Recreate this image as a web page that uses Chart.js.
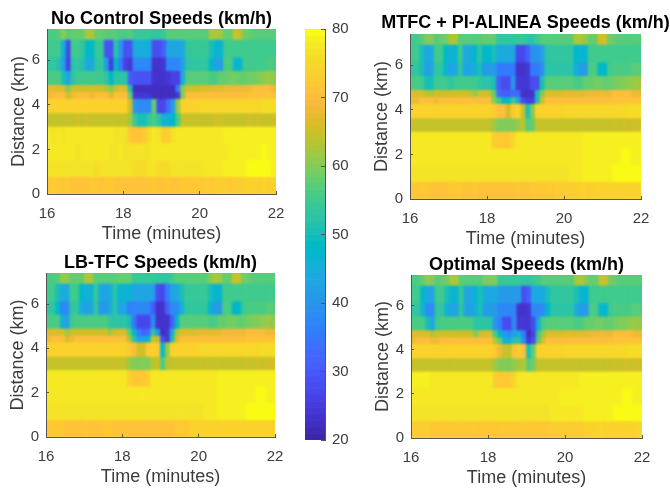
<!DOCTYPE html>
<html>
<head>
  <meta charset="UTF-8">
  <title>Speeds</title>
  <script src="https://cdn.jsdelivr.net/npm/chart.js"></script>
  <style>
    html, body { margin: 0; padding: 0; background: #fff; width: 670px; height: 491px; overflow: hidden; }
    canvas { position: absolute; filter: blur(0.3px); }
  </style>
</head>
<body>
<canvas id="p1"></canvas>
<canvas id="p2"></canvas>
<canvas id="p3"></canvas>
<canvas id="p4"></canvas>
<canvas id="bar"></canvas>
<script>
// one time bin = 1/8 minute, 48 bins from 16 to 22
const timeStart = 16;
const timeStep = 0.125;
// row edges in km, bottom to top
const distanceEdges = [0, 0.75, 1.5, 2.25, 3, 3.6, 4.25, 4.55, 4.87, 5.5, 6.1, 6.9, 7.4];
const xTicks = [16, 18, 20, 22];
const yTicks = [0, 2, 4, 6];
const barTicks = [20, 30, 40, 50, 60, 70, 80];

// speeds km/h, rows top to bottom (7.4 km down to 0 km)
const noControl = [
  [56,56,57,61,57,58,58,58, 63,63,58,58,57,57,57,56, 56,57,54,54,54,54,53,53, 54,57,57,57,57,57,57,57, 57,57,63,63,62,58,58,65, 65,59,58,57,57,57,57,57],
  [55,55,55,46,27,55,55,53, 49,49,54,54,29,29,52,40, 29,29,45,45,45,45,28,28, 30,43,43,43,44,53,54,54, 54,54,50,47,47,55,55,55, 55,55,55,55,55,55,55,55],
  [53,53,51,42,26,52,53,51, 44,44,53,53,41,25,49,35, 26,24,37,37,37,37,23,23, 24,37,37,37,42,52,53,53, 53,53,48,42,42,56,56,47, 47,55,55,55,55,55,56,56],
  [56,56,56,50,42,52,55,55, 55,55,55,55,53,48,52,52, 52,30,29,29,29,29,23,23, 23,24,26,26,44,57,57,57, 57,57,56,56,58,58,59,59, 58,58,59,59,60,61,62,61],
  [68,68,67,67,60,66,66,66, 66,66,66,66,64,60,66,67, 67,50,22,22,22,22,22,22, 22,22,22,35,60,66,66,66, 67,67,68,68,68,69,69,69, 69,69,69,70,70,70,70,69],
  [69,70,70,70,66,69,70,70, 70,69,70,70,70,67,70,70, 70,58,24,24,24,24,22,22, 22,22,22,24,60,70,70,70, 70,70,70,70,70,70,70,70, 70,70,71,71,71,71,71,71],
  [74,74,74,74,74,74,74,74, 74,74,74,74,74,74,74,74, 74,66,40,38,38,38,58,27, 27,33,42,62,74,74,74,74, 75,75,75,75,75,75,75,75, 75,75,75,75,75,76,76,76],
  [65,65,65,65,65,65,66,65, 66,65,65,65,65,65,65,65, 65,62,54,50,50,54,56,52, 46,46,48,56,65,65,65,65, 65,65,65,66,66,65,65,65, 65,65,66,65,66,65,65,66],
  [78,77,78,77,78,78,78,78, 78,78,78,78,78,78,77,77, 77,72,71,71,72,76,78,77, 73,73,77,78,78,78,78,78, 78,78,78,78,78,79,79,79, 79,79,79,79,79,79,79,79],
  [78,78,78,78,78,78,77,78, 78,78,78,78,78,77,77,78, 77,77,77,77,77,77,78,78, 78,78,78,78,78,78,78,78, 78,78,78,78,78,78,79,79, 79,79,79,79,79,80,79,79],
  [77,77,77,77,77,77,77,77, 77,77,76,77,77,77,77,77, 77,77,76,76,76,77,77,76, 76,76,77,77,77,77,77,77, 77,78,78,78,78,79,79,79, 79,79,80,80,80,80,80,79],
  [72,73,72,72,72,71,71,71, 71,72,72,71,72,72,71,71, 71,71,71,71,71,71,72,71, 71,72,71,71,72,72,72,72, 72,73,72,73,73,73,72,73, 73,74,74,74,73,74,73,74]
];
const mtfc = [
  [55,55,57,60,60,57,58,59, 63,63,57,57,57,57,57,58, 58,58,53,53,53,53,54,54, 52,52,55,57,57,57,57,57, 57,57,63,63,61,58,58,66, 66,59,58,57,57,57,57,57],
  [55,55,50,43,44,55,55,48, 46,47,55,44,44,48,52,48, 48,50,44,44,44,44,27,27, 30,39,39,42,52,53,53,53, 53,53,48,47,47,55,55,55, 55,55,55,55,55,55,55,55],
  [53,53,50,42,43,53,53,47, 43,44,53,43,43,46,50,41, 41,41,35,35,35,35,23,23, 24,35,35,38,52,52,52,52, 52,52,46,41,41,56,56,48, 48,55,56,56,56,56,57,57],
  [56,56,55,50,50,55,55,55, 53,55,55,55,55,55,53,52, 52,50,30,28,28,40,24,24, 24,28,28,50,57,57,57,57, 57,57,56,56,58,58,59,59, 58,58,59,60,60,61,62,62],
  [67,67,67,64,63,66,66,66, 66,66,66,66,66,61,66,66, 66,58,32,30,30,32,32,23, 23,23,50,60,67,67,67,67, 68,68,68,68,68,69,69,69, 69,69,70,70,70,70,69,69],
  [69,69,70,70,70,69,70,70, 70,70,70,70,70,70,70,70, 70,60,55,48,48,55,45,28, 25,25,50,65,70,70,70,70, 70,70,70,70,70,70,70,70, 70,70,71,71,71,71,71,71],
  [74,74,74,74,74,74,74,74, 74,74,74,74,74,74,74,74, 74,73,70,70,66,72,74,66, 50,60,74,74,74,74,74,74, 75,75,75,75,75,75,75,75, 75,75,75,75,75,76,76,76],
  [65,65,65,65,65,65,65,65, 65,65,65,65,65,65,65,65, 65,62,60,60,60,60,62,64, 57,58,65,65,65,65,65,65, 65,65,65,65,65,65,65,65, 65,65,66,65,66,65,66,66],
  [78,78,78,78,78,78,78,78, 78,78,78,78,78,78,78,78, 78,73,72,72,72,75,78,78, 78,78,78,78,78,78,78,78, 78,78,78,78,79,79,79,79, 79,79,79,79,79,79,79,79],
  [78,78,78,78,78,78,78,78, 78,78,78,78,78,78,78,78, 78,78,78,78,78,78,78,78, 78,78,78,78,78,78,78,78, 78,78,78,78,79,79,79,79, 79,79,79,79,80,80,79,79],
  [77,77,77,77,77,77,77,77, 77,77,77,77,77,77,77,77, 77,77,77,77,77,77,77,77, 77,77,77,77,77,77,77,77, 77,78,78,78,79,79,79,79, 79,79,80,80,80,80,80,80],
  [72,72,72,72,71,71,71,71, 72,72,72,71,71,72,71,71, 71,71,71,71,71,71,72,71, 71,72,72,72,72,72,73,73, 73,73,73,74,74,73,74,74, 74,74,74,74,74,74,74,74]
];
const lbTfc = [
  [56,56,57,61,61,58,58,58, 63,63,57,57,57,57,57,58, 58,58,54,54,54,54,54,53, 53,53,55,57,57,57,57,57, 57,57,60,63,62,58,58,65, 65,59,58,57,57,57,57,57],
  [55,55,50,44,45,55,55,48, 45,47,54,44,43,45,52,47, 46,47,43,43,43,43,42,28, 27,35,43,44,50,54,54,54, 54,54,50,47,47,55,55,55, 55,55,55,55,55,55,55,55],
  [53,53,48,37,38,53,53,45, 42,43,53,41,40,44,52,43, 43,36,37,37,37,37,30,23, 23,30,38,38,45,53,53,53, 53,53,47,41,41,56,56,48, 48,55,56,56,56,56,57,57],
  [56,56,56,45,42,55,56,56, 56,56,56,56,56,53,52,52, 52,50,35,27,27,27,38,23, 23,23,30,48,57,57,57,57, 57,57,56,56,58,58,59,59, 58,58,59,60,60,61,62,61],
  [67,67,67,67,62,66,66,66, 66,66,66,66,66,62,66,67, 67,58,48,36,30,32,52,40, 22,24,45,62,67,67,67,67, 68,68,68,68,68,69,69,69, 69,69,70,70,70,70,69,69],
  [69,70,70,70,67,69,70,70, 70,70,70,70,70,70,70,70, 70,64,52,42,42,48,65,64, 28,24,50,67,70,70,70,70, 70,70,70,70,70,70,70,70, 70,70,71,71,71,71,71,71],
  [74,74,74,74,74,74,74,74, 74,74,74,74,74,74,74,74, 74,72,70,66,66,72,74,72, 48,62,74,74,74,74,74,74, 75,75,75,75,75,75,75,75, 75,75,75,75,75,76,76,76],
  [65,65,65,65,65,65,65,65, 65,65,65,65,65,65,65,65, 65,62,60,60,60,60,64,65, 56,64,65,65,65,65,65,65, 65,65,65,65,65,65,65,65, 65,65,66,65,66,65,66,66],
  [78,78,78,78,78,78,78,78, 78,78,78,78,78,78,78,78, 78,74,72,72,72,74,78,78, 78,78,78,78,78,78,78,78, 78,78,78,78,79,79,79,79, 79,79,79,79,79,79,79,79],
  [78,78,78,78,78,78,78,78, 78,78,78,78,78,78,78,78, 78,78,78,78,78,78,78,78, 78,78,78,78,78,78,78,78, 78,78,78,78,79,79,79,79, 79,79,79,79,80,80,79,79],
  [77,77,77,77,77,77,77,77, 77,77,77,77,77,77,77,77, 77,77,77,77,77,77,77,77, 77,77,77,77,77,77,77,77, 77,78,78,78,79,79,79,79, 79,79,80,80,80,80,80,80],
  [72,72,72,72,71,71,71,71, 72,71,71,71,72,72,71,71, 71,71,71,71,71,71,71,71, 71,71,71,72,72,72,74,74, 74,74,74,74,74,74,74,74, 74,74,74,74,74,74,74,74]
];
const optimal = [
  [56,56,58,61,60,57,58,59, 63,63,57,57,57,57,57,60, 60,60,54,54,54,54,54,53, 53,54,55,57,57,57,57,57, 57,57,63,63,60,58,58,65, 65,59,58,57,57,57,57,57],
  [55,55,48,43,43,55,55,50, 47,47,54,43,43,47,50,44, 44,44,41,41,41,41,41,28, 30,44,44,44,50,53,53,53, 53,53,50,47,47,55,55,55, 55,55,55,55,55,55,55,55],
  [53,53,46,38,38,53,53,46, 43,43,53,42,42,46,50,41, 41,41,37,37,37,37,23,23, 24,37,37,38,48,52,52,52, 52,52,44,41,41,56,56,47, 47,55,56,56,56,56,57,57],
  [56,56,56,50,43,55,56,56, 56,56,56,56,56,52,52,52, 52,40,36,28,28,38,24,24, 24,28,46,56,57,57,57,57, 57,57,56,56,58,58,59,59, 58,58,59,60,60,61,62,61],
  [67,67,67,67,63,66,66,66, 66,66,66,66,66,60,66,67, 67,56,48,40,38,42,45,35, 22,26,55,62,67,67,67,67, 68,68,68,68,68,69,69,69, 69,69,70,70,70,70,69,69],
  [69,70,70,70,69,69,70,70, 70,70,70,70,70,70,70,70, 70,64,58,46,46,52,52,38, 24,28,58,67,70,70,70,70, 70,70,70,70,70,70,70,70, 70,70,71,71,71,71,71,71],
  [74,74,74,74,74,74,74,74, 74,74,74,74,74,74,74,74, 74,72,69,65,65,71,73,70, 50,58,74,74,74,74,74,74, 75,75,75,75,75,75,75,75, 75,75,75,75,75,76,76,76],
  [65,65,65,65,65,65,65,65, 65,65,65,65,65,65,65,65, 65,62,60,60,60,61,63,63, 57,59,65,65,65,65,65,65, 65,65,65,65,65,65,65,65, 65,65,66,65,66,65,66,66],
  [79,79,79,79,78,78,78,78, 78,78,78,78,78,78,78,78, 78,73,72,72,72,75,78,78, 78,78,78,78,78,78,78,78, 78,78,78,79,79,79,79,79, 79,79,79,79,79,79,79,79],
  [78,78,78,78,78,78,78,78, 78,78,78,78,78,78,78,78, 78,78,78,78,78,78,78,78, 78,78,78,78,78,78,78,79, 79,79,79,79,79,79,79,79, 79,79,79,79,80,80,79,79],
  [77,77,77,77,77,77,77,77, 77,77,77,77,77,77,77,77, 77,77,77,77,77,77,77,77, 77,77,77,77,77,78,78,78, 78,78,78,78,79,79,79,79, 79,79,80,80,80,80,80,80],
  [73,73,73,73,72,72,72,72, 72,72,72,72,72,72,72,72, 72,72,72,72,72,72,72,72, 72,72,72,72,72,73,73,73, 73,73,73,73,74,74,74,75, 74,74,74,74,74,74,74,75]
];

// MATLAB parula(64)
const parula = [
  [62,38,168],[64,42,181],[66,46,192],[67,50,203],[69,55,213],[70,60,222],[71,65,229],[71,71,235],
  [72,77,240],[72,82,244],[71,88,248],[70,94,251],[69,99,253],[66,105,254],[62,111,255],[56,117,254],
  [50,124,252],[47,129,250],[46,135,247],[45,140,243],[43,145,239],[39,151,235],[37,155,232],[35,160,229],
  [32,165,227],[28,169,223],[24,173,219],[18,177,214],[8,181,208],[1,184,202],[2,186,195],[11,189,189],
  [25,191,182],[36,193,174],[44,196,167],[49,198,159],[55,200,151],[63,202,142],[74,203,132],[87,204,122],
  [100,205,111],[114,205,100],[129,204,89],[143,203,78],[157,201,67],[171,199,57],[185,196,49],[197,194,42],
  [209,191,39],[220,189,41],[230,187,45],[240,186,54],[248,186,61],[254,190,60],[254,195,56],[254,200,51],
  [252,205,49],[250,210,43],[247,215,41],[245,220,39],[245,227,39],[246,233,36],[247,240,32],[249,251,21]
];

function speedColor(v) {
  let i = Math.round((v - 20) / 60 * 63);
  i = Math.max(0, Math.min(63, i));
  return 'rgb(' + parula[i].join(',') + ')';
}

const textColor = '#3c3c3c';
const lineColor = '#555';
const fontName = "'Liberation Sans', Arial, sans-serif";

const panels = [
  { id: 'p1', speeds: noControl, title: 'No Control Speeds (km/h)', left: 0, top: 0, plotLeft: 47, plotRight: 276, plotTop: 29, plotBottom: 194, titlePad: 9 },
  { id: 'p2', speeds: mtfc, title: 'MTFC + PI-ALINEA Speeds (km/h)', left: 364, top: 0, plotLeft: 410, plotRight: 641, plotTop: 34, plotBottom: 199, titlePad: 13 },
  { id: 'p3', speeds: lbTfc, title: 'LB-TFC Speeds (km/h)', left: 0, top: 245, plotLeft: 46, plotRight: 275, plotTop: 273, plotBottom: 437, titlePad: 8 },
  { id: 'p4', speeds: optimal, title: 'Optimal Speeds (km/h)', left: 364, top: 245, plotLeft: 411, plotRight: 642, plotTop: 275, plotBottom: 438, titlePad: 10 }
];

// centre the title over the plot and let it run wider than the plot
const titleOverPlot = {
  id: 'titleOverPlot',
  afterLayout(chart) {
    const a = chart.chartArea;
    const mid = (a.left + a.right) / 2;
    chart.titleBlock.left = mid - 160;
    chart.titleBlock.right = mid + 160;
  }
};

// soften the cells a little, the reference image is resampled
const softenCells = {
  id: 'softenCells',
  afterDatasetsDraw(chart) {
    const { ctx, canvas, chartArea: a } = chart;
    ctx.save();
    ctx.beginPath();
    ctx.rect(a.left, a.top, a.right - a.left, a.bottom - a.top);
    ctx.clip();
    ctx.filter = 'blur(0.8px)';
    ctx.drawImage(canvas, 0, 0);
    ctx.restore();
  }
};

function drawPanel(p) {
  const canvas = document.getElementById(p.id);
  const width = p.plotRight - p.left + 36;
  const height = p.plotBottom + 51 - p.top;
  canvas.width = width;
  canvas.height = height;
  canvas.style.left = p.left + 'px';
  canvas.style.top = p.top + 'px';

  const cells = [];
  const colors = [];
  p.speeds.forEach((row, r) => {
    const k = distanceEdges.length - 2 - r;
    row.forEach((v, c) => {
      cells.push({ x: timeStart + (c + 0.5) * timeStep, y: [distanceEdges[k], distanceEdges[k + 1]] });
      colors.push(speedColor(v));
    });
  });

  new Chart(canvas, {
    type: 'bar',
    data: { datasets: [{ data: cells, backgroundColor: colors, borderWidth: 0, barPercentage: 1, categoryPercentage: 1 }] },
    options: {
      responsive: false,
      animation: false,
      devicePixelRatio: 1,
      layout: { padding: { right: 36 } },
      plugins: {
        legend: { display: false },
        tooltip: { enabled: false },
        title: {
          display: true, text: p.title, color: '#000', fullSize: false,
          font: { family: fontName, size: 18, weight: 'bold', lineHeight: '20px' },
          padding: { top: p.titlePad, bottom: p.plotTop - p.top - p.titlePad - 20 }
        }
      },
      scales: {
        x: {
          type: 'linear', min: 16, max: 22, offset: false,
          afterFit: s => { s.height = 51; },
          afterBuildTicks: s => { s.ticks = xTicks.map(v => ({ value: v })); },
          grid: { drawOnChartArea: false, tickLength: -3, color: lineColor, z: 1, offset: false },
          border: { color: lineColor, z: 1 },
          ticks: { color: textColor, font: { family: fontName, size: 15 }, padding: 14, maxRotation: 0 },
          title: { display: true, text: 'Time (minutes)', color: textColor, font: { family: fontName, size: 18 }, padding: { top: 0, bottom: 0 } }
        },
        y: {
          type: 'linear', min: 0, max: 7.4,
          afterFit: s => { s.width = p.plotLeft - p.left; },
          afterBuildTicks: s => { s.ticks = yTicks.map(v => ({ value: v })); },
          grid: { drawOnChartArea: false, tickLength: -3, color: lineColor, z: 1 },
          border: { color: lineColor, z: 1 },
          ticks: { color: textColor, font: { family: fontName, size: 15 }, padding: 10 },
          title: { display: true, text: 'Distance (km)', color: textColor, font: { family: fontName, size: 18 }, padding: { top: p.plotLeft - p.left - 39, bottom: 0 } }
        }
      }
    },
    plugins: [titleOverPlot, softenCells]
  });
}

function drawColorbar() {
  const canvas = document.getElementById('bar');
  canvas.width = 60;
  canvas.height = 451;
  canvas.style.left = '300px';
  canvas.style.top = '9px';
  const step = 60 / parula.length;
  const cells = parula.map((c, i) => ({ x: 'c', y: [20 + i * step, 20 + (i + 1) * step] }));
  new Chart(canvas, {
    type: 'bar',
    data: { labels: ['c'], datasets: [{ data: cells, backgroundColor: parula.map(c => 'rgb(' + c.join(',') + ')'), borderWidth: 0, barPercentage: 1, categoryPercentage: 1 }] },
    options: {
      responsive: false,
      animation: false,
      devicePixelRatio: 1,
      layout: { padding: { left: 5, top: 0, bottom: 0 } },
      plugins: { legend: { display: false }, tooltip: { enabled: false } },
      scales: {
        x: { display: false },
        y: {
          position: 'right', min: 20, max: 80,
          afterFit: s => { s.width = 35; },
          afterBuildTicks: s => { s.ticks = barTicks.map(v => ({ value: v })); },
          grid: { drawOnChartArea: false, tickLength: -4, color: lineColor, z: 1 },
          border: { color: lineColor, z: 1 },
          ticks: { color: textColor, font: { family: fontName, size: 15 }, padding: 11 }
        }
      }
    }
  });
}

panels.forEach(drawPanel);
drawColorbar();
</script>
</body>
</html>
